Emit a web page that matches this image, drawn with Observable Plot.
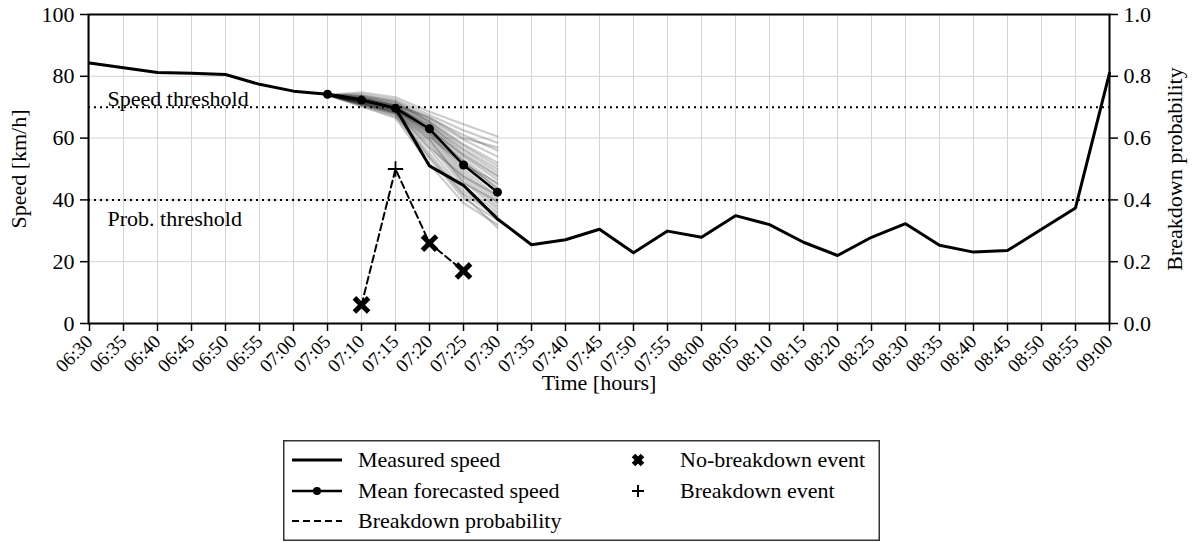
<!DOCTYPE html>
<html>
<head>
<meta charset="utf-8">
<script src="https://cdn.jsdelivr.net/npm/d3@7"></script>
<script src="https://cdn.jsdelivr.net/npm/@observablehq/plot@0.6"></script>
<style>
  body { margin: 0; background: #fff; font-family: "Liberation Serif", "Times New Roman", serif; }
  #wrap { position: relative; width: 1193px; height: 542px; overflow: hidden; }
  #legend { position: absolute; left: 283px; top: 440px; }
</style>
</head>
<body>
<div id="wrap"><div id="chart"></div><div id="legend"></div></div>
<script>
// 5-minute time steps of the morning peak
const times = ["06:30","06:35","06:40","06:45","06:50","06:55","07:00","07:05","07:10","07:15",
  "07:20","07:25","07:30","07:35","07:40","07:45","07:50","07:55","08:00","08:05","08:10",
  "08:15","08:20","08:25","08:30","08:35","08:40","08:45","08:50","08:55","09:00"];

// Measured speed [km/h] at each time step
const measuredSpeed = [84.3, 82.8, 81.2, 81.0, 80.6, 77.4, 75.2, 74.2, 72.3, 69.7,
  51.0, 44.7, 33.8, 25.5, 27.1, 30.5, 22.9, 29.9, 27.9, 34.9, 32.0,
  26.3, 22.0, 27.9, 32.3, 25.3, 23.1, 23.6, 30.5, 37.4, 81.0];

// Forecast horizon issued at 07:05
const forecastTimes = ["07:05","07:10","07:15","07:20","07:25","07:30"];
const meanForecast = [74.2, 72.3, 69.7, 63.0, 51.3, 42.5];

// Individual forecast samples (speed at each forecast time)
const forecastSamples = [
  [74, 74.8, 73.2, 68.5, 64.5, 60.5],
  [74, 74.2, 72.5, 67.5, 62.5, 58.5],
  [74, 73.8, 72.0, 66.5, 61.0, 56.0],
  [74, 73.5, 71.5, 66.0, 59.5, 54.0],
  [74, 73.2, 71.0, 65.5, 58.0, 52.0],
  [74, 73.0, 70.8, 65.0, 56.5, 50.0],
  [74, 72.8, 70.5, 64.5, 55.0, 48.0],
  [74, 72.6, 70.2, 64.0, 54.0, 46.5],
  [74, 72.5, 70.0, 63.5, 53.0, 45.0],
  [74, 72.4, 69.8, 63.0, 52.0, 44.0],
  [74, 72.3, 69.6, 62.5, 51.0, 42.5],
  [74, 72.2, 69.4, 62.0, 50.0, 41.0],
  [74, 72.0, 69.2, 61.5, 49.0, 40.0],
  [74, 71.8, 69.0, 61.0, 48.0, 39.0],
  [74, 71.6, 68.8, 60.0, 47.0, 38.0],
  [74, 71.4, 68.5, 59.0, 46.0, 37.0],
  [74, 71.2, 68.2, 58.0, 44.5, 36.0],
  [74, 71.0, 68.0, 56.5, 43.0, 35.0],
  [74, 70.8, 67.5, 55.0, 42.0, 34.5],
  [74, 70.5, 67.0, 53.5, 40.5, 33.5],
  [74, 70.2, 66.5, 51.5, 39.0, 32.0],
  [74, 72.9, 70.6, 66.8, 60.0, 57.0],
  [74, 72.1, 69.9, 64.2, 56.0, 49.0],
  [74, 71.9, 69.3, 60.5, 51.5, 45.5],
  [74, 71.5, 68.6, 57.0, 47.5, 41.5],
  [74, 72.7, 70.4, 62.8, 54.5, 47.5],
  [74, 71.3, 68.4, 59.5, 45.5, 39.5],
  [74, 72.4, 69.7, 61.8, 52.5, 43.5],
  [74, 70.9, 67.8, 54.0, 41.5, 31.0],
  [74, 73.6, 71.7, 65.2, 57.5, 51.0]
];

// Breakdown probability and whether a breakdown occurred
const probTimes = ["07:10","07:15","07:20","07:25"];
const breakdownProb = [0.06, 0.50, 0.26, 0.17];
const breakdownOccurred = [false, true, false, false];

// Thresholds
const speedThreshold = 70;       // km/h
const probThreshold = 0.4;

const speedTicks = [0, 20, 40, 60, 80, 100];
const probTicks = [0.0, 0.2, 0.4, 0.6, 0.8, 1.0];
const gridSpeeds = [20, 40, 60, 80];

// Tables for the marks
const measured = times.map((t, i) => ({time: t, speed: measuredSpeed[i]}));
const mean = forecastTimes.map((t, i) => ({time: t, speed: meanForecast[i]}));
const samples = forecastSamples.flatMap((run, k) =>
  run.map((v, i) => ({run: k, time: forecastTimes[i], speed: v})));
const prob = probTimes.map((t, i) => ({time: t, p: breakdownProb[i], event: breakdownOccurred[i]}));

const font = "'Liberation Serif', 'Times New Roman', serif";
const fs = 22;
const toSpeed = p => p * 100;  // right axis shares the frame: probability 0..1 maps onto 0..100

const chart = Plot.plot({
  width: 1193,
  height: 430,
  marginLeft: 88,
  marginRight: 84,
  marginTop: 14,
  marginBottom: 107,
  style: {fontFamily: font, fontSize: fs + "px", color: "#000", background: "#fff", overflow: "visible"},
  x: {type: "point", domain: times, padding: 0},
  y: {domain: [0, 100]},
  marks: [
    Plot.gridX(times, {stroke: "#d4d4d4", strokeOpacity: 1, strokeWidth: 1}),
    Plot.gridY(gridSpeeds, {stroke: "#d4d4d4", strokeOpacity: 1, strokeWidth: 1}),
    Plot.ruleY([speedThreshold, toSpeed(probThreshold)], {stroke: "#000", strokeWidth: 2, strokeDasharray: "2,4"}),
    Plot.text(["Speed threshold"], {x: () => times[0], y: () => speedThreshold, text: d => d,
      textAnchor: "start", lineAnchor: "bottom", dx: 18, dy: -1, fontSize: fs, fill: "#000"}),
    Plot.text(["Prob. threshold"], {x: () => times[0], y: () => toSpeed(probThreshold), text: d => d,
      textAnchor: "start", lineAnchor: "top", dx: 18, dy: 10, fontSize: fs, fill: "#000"}),
    Plot.line(samples, {x: "time", y: "speed", z: "run", stroke: "#000", strokeOpacity: 0.2, strokeWidth: 2.2}),
    Plot.line(measured, {x: "time", y: "speed", stroke: "#000", strokeWidth: 3}),
    Plot.line(mean, {x: "time", y: "speed", stroke: "#000", strokeWidth: 2.5}),
    Plot.dot(mean, {x: "time", y: "speed", r: 4.5, fill: "#000"}),
    Plot.line(prob, {x: "time", y: d => toSpeed(d.p), stroke: "#000", strokeWidth: 2, strokeDasharray: "7,4"}),
    Plot.dot(prob.filter(d => !d.event), {x: "time", y: d => toSpeed(d.p), symbol: "times", r: 6.5, stroke: "#000", strokeWidth: 5}),
    Plot.dot(prob.filter(d => d.event), {x: "time", y: d => toSpeed(d.p), symbol: "plus", r: 5, stroke: "#000", strokeWidth: 1.8}),
    Plot.frame({stroke: "#000", strokeWidth: 2}),
    Plot.axisX({tickRotate: -45, tickSize: 8, tickPadding: 7, textAnchor: "end", lineAnchor: "middle",
      strokeWidth: 1.5, fontSize: 19, label: null}),
    Plot.axisX({tickSize: 0, ticks: [], label: "Time [hours]", labelAnchor: "center", labelArrow: "none",
      labelOffset: 66, fontSize: fs}),
    Plot.axisY({anchor: "left", ticks: speedTicks, tickSize: 8, tickPadding: 6, strokeWidth: 1.5, fontSize: fs,
      label: "Speed [km/h]", labelAnchor: "center", labelArrow: "none", labelOffset: 78}),
    Plot.axisY({anchor: "right", ticks: probTicks.map(toSpeed), tickFormat: d => (d / 100).toFixed(1),
      tickSize: 8, tickPadding: 6, strokeWidth: 1.5, fontSize: fs,
      label: "Breakdown probability", labelAnchor: "center", labelArrow: "none", labelOffset: 72})
  ]
});
document.getElementById("chart").append(chart);

// Legend below the chart
const legendCol1 = ["Measured speed", "Mean forecasted speed", "Breakdown probability"];
const legendCol2 = ["No-breakdown event", "Breakdown event"];
const lw = 597, lh = 101;
const svg = d3.select("#legend").append("svg").attr("width", lw).attr("height", lh)
  .style("font-family", font).style("font-size", fs + "px");
svg.append("rect").attr("x", 0.75).attr("y", 0.75).attr("width", lw - 1.5).attr("height", lh - 1.5)
  .attr("fill", "#fff").attr("stroke", "#333").attr("stroke-width", 1.5);
const rowY = [20, 51, 81];
legendCol1.forEach((label, i) => {
  const g = svg.append("g").attr("transform", `translate(0,${rowY[i]})`);
  const line = g.append("line").attr("x1", 9).attr("x2", 59).attr("stroke", "#000");
  if (i === 0) line.attr("stroke-width", 3);
  if (i === 1) { line.attr("stroke-width", 2.5); g.append("circle").attr("cx", 34).attr("r", 4).attr("fill", "#000"); }
  if (i === 2) line.attr("stroke-width", 2).attr("stroke-dasharray", "7,4");
  g.append("text").attr("x", 75).attr("dy", "0.33em").text(label);
});
legendCol2.forEach((label, i) => {
  const g = svg.append("g").attr("transform", `translate(0,${rowY[i]})`);
  if (i === 0) {
    g.append("path").attr("d", "M350.5,-4.5L359.5,4.5M350.5,4.5L359.5,-4.5").attr("stroke", "#000").attr("stroke-width", 5);
  } else {
    g.append("path").attr("d", "M349,0H361M355,-6V6").attr("stroke", "#000").attr("stroke-width", 2);
  }
  g.append("text").attr("x", 397).attr("dy", "0.33em").text(label);
});
</script>
</body>
</html>
